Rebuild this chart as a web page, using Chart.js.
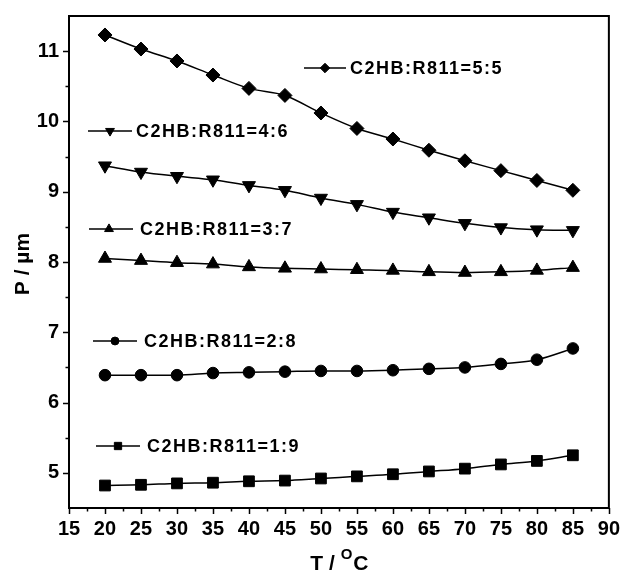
<!DOCTYPE html>
<html>
<head>
<meta charset="utf-8">
<script src="https://cdn.jsdelivr.net/npm/chart.js@4/dist/chart.umd.min.js"></script>
<style>
  html, body { margin: 0; padding: 0; background: #fff; }
  #wrap { width: 623px; height: 572px; }
</style>
</head>
<body>
<div id="wrap"><canvas id="c" width="623" height="572"></canvas></div>
<script>
// Helical pitch P (µm) against temperature T (°C) for five C2HB:R811 mixtures
const temperatures = [20, 25, 30, 35, 40, 45, 50, 55, 60, 65, 70, 75, 80, 85];

const pitch55 = [11.23, 11.03, 10.86, 10.66, 10.47, 10.37, 10.12, 9.90, 9.75, 9.59, 9.44, 9.30, 9.16, 9.02];
const pitch46 = [9.37, 9.28, 9.22, 9.17, 9.09, 9.02, 8.91, 8.82, 8.71, 8.63, 8.55, 8.49, 8.46, 8.45];
const pitch37 = [8.05, 8.02, 7.99, 7.97, 7.93, 7.91, 7.90, 7.89, 7.88, 7.86, 7.85, 7.86, 7.88, 7.92];
const pitch28 = [6.39, 6.39, 6.39, 6.42, 6.43, 6.44, 6.45, 6.45, 6.46, 6.48, 6.50, 6.55, 6.61, 6.77];
const pitch19 = [4.82, 4.83, 4.85, 4.86, 4.88, 4.89, 4.92, 4.95, 4.98, 5.02, 5.06, 5.12, 5.17, 5.25];

const seriesLabels = ['C2HB:R811=5:5', 'C2HB:R811=4:6', 'C2HB:R811=3:7', 'C2HB:R811=2:8', 'C2HB:R811=1:9'];
const seriesValues = [pitch55, pitch46, pitch37, pitch28, pitch19];

const xTickLabels = [15, 20, 25, 30, 35, 40, 45, 50, 55, 60, 65, 70, 75, 80, 85, 90];
const yTickLabels = [5, 6, 7, 8, 9, 10, 11];

const FONT = '"Liberation Sans", Arial, Helvetica, sans-serif';

// marker look of each mixture
const markers = [
  { style: 'rectRot',  rotation: 0,   radius: 7 },
  { style: 'triangle', rotation: 180, radius: 7.5 },
  { style: 'triangle', rotation: 0,   radius: 7.5 },
  { style: 'circle',   rotation: 0,   radius: 5.8 },
  { style: 'rect',     rotation: 0,   radius: 7.6 }
];

// where each key (line + marker + name) sits inside the plot, in canvas pixels
const keySpots = [
  { x0: 304, x1: 346, mx: 325, y: 68,  tx: 350 },
  { x0: 88,  x1: 132, mx: 110, y: 131, tx: 136 },
  { x0: 89,  x1: 133, mx: 109, y: 229, tx: 140 },
  { x0: 93,  x1: 137, mx: 115, y: 341, tx: 144 },
  { x0: 96,  x1: 140, mx: 118, y: 446, tx: 147 }
];

const datasets = seriesValues.map((vals, i) => ({
  label: seriesLabels[i],
  data: temperatures.map((t, k) => ({ x: t, y: vals[k] })),
  borderColor: '#000',
  borderWidth: 1.5,
  backgroundColor: '#000',
  pointBackgroundColor: '#000',
  pointBorderColor: '#000',
  pointBorderWidth: 1,
  pointStyle: markers[i].style,
  pointRotation: markers[i].rotation,
  pointRadius: markers[i].radius,
  pointHoverRadius: markers[i].radius,
  cubicInterpolationMode: 'monotone',
  fill: false,
  clip: false
}));

function drawMarker(ctx, m, x, y, radius) {
  const opts = { pointStyle: m.style, rotation: m.rotation, radius: radius, borderWidth: 1 };
  ctx.fillStyle = '#000';
  ctx.strokeStyle = '#000';
  ctx.lineWidth = 1;
  Chart.helpers.drawPoint(ctx, opts, x, y);
}

const framePlugin = {
  id: 'frame',
  afterDraw(chart) {
    const ctx = chart.ctx;
    const a = chart.chartArea;
    const xs = chart.scales.x, ys = chart.scales.y;
    ctx.save();
    ctx.strokeStyle = '#000';
    ctx.lineWidth = 2;
    // top and right edges of the box
    ctx.beginPath();
    ctx.moveTo(a.left, a.top);
    ctx.lineTo(a.right, a.top);
    ctx.lineTo(a.right, a.bottom);
    ctx.stroke();

    // outward major and minor ticks
    ctx.lineWidth = 1.5;
    ctx.beginPath();
    for (let v = xs.min; v <= xs.max + 1e-9; v += 2.5) {
      const px = Math.round(xs.getPixelForValue(v)) + 0.5;
      const len = (Math.abs(v % 5) < 1e-9) ? 6 : 3.5;
      ctx.moveTo(px, a.bottom);
      ctx.lineTo(px, a.bottom + len);
    }
    for (let v = 5; v <= 11 + 1e-9; v += 0.5) {
      const py = Math.round(ys.getPixelForValue(v)) + 0.5;
      const len = Number.isInteger(v) ? 6 : 3.5;
      ctx.moveTo(a.left, py);
      ctx.lineTo(a.left - len, py);
    }
    ctx.stroke();

    // axis titles
    ctx.fillStyle = '#000';
    ctx.font = 'bold 21px ' + FONT;
    ctx.save();
    ctx.translate(23, 264);
    ctx.rotate(-Math.PI / 2);
    ctx.textAlign = 'center';
    ctx.textBaseline = 'middle';
    ctx.fillText('P / µm', 0, 0);
    ctx.restore();

    ctx.textBaseline = 'alphabetic';
    ctx.textAlign = 'left';
    const partA = 'T / ';
    ctx.font = 'bold 21px ' + FONT;
    const wA = ctx.measureText(partA).width;
    const wC = ctx.measureText('C').width;
    ctx.font = 'bold 15px ' + FONT;
    const wO = ctx.measureText('O').width;
    const cx = (a.left + a.right) / 2;
    let tx = cx - (wA + wO + wC) / 2;
    const base = 570;
    ctx.font = 'bold 21px ' + FONT;
    ctx.fillText(partA, tx, base);
    tx += wA;
    ctx.font = 'bold 15px ' + FONT;
    ctx.fillText('O', tx, base - 11);
    tx += wO + 1;
    ctx.font = 'bold 21px ' + FONT;
    ctx.fillText('C', tx, base);

    // series keys
    keySpots.forEach((k, i) => {
      ctx.strokeStyle = '#000';
      ctx.lineWidth = 1.5;
      ctx.beginPath();
      ctx.moveTo(k.x0, k.y);
      ctx.lineTo(k.x1, k.y);
      ctx.stroke();
      drawMarker(ctx, markers[i], k.mx, k.y, markers[i].radius * 0.68);
      ctx.fillStyle = '#000';
      ctx.font = 'bold 18px ' + FONT;
      if ('letterSpacing' in ctx) ctx.letterSpacing = '1.5px';
      ctx.textAlign = 'left';
      ctx.textBaseline = 'middle';
      ctx.fillText(seriesLabels[i], k.tx, k.y + 1);
      if ('letterSpacing' in ctx) ctx.letterSpacing = '0px';
    });
    ctx.restore();
  }
};

new Chart(document.getElementById('c'), {
  type: 'line',
  data: { datasets },
  options: {
    responsive: false,
    animation: false,
    layout: { padding: { top: 11, right: 11, left: 0, bottom: 0 } },
    plugins: { legend: { display: false }, tooltip: { enabled: false } },
    scales: {
      x: {
        type: 'linear',
        min: 15,
        max: 90,
        afterBuildTicks: s => { s.ticks = xTickLabels.map(v => ({ value: v })); },
        afterFit: s => { s.height = 64; },
        ticks: {
          color: '#000',
          font: { family: FONT, size: 20, weight: 'bold' },
          padding: 3,
          maxRotation: 0,
          autoSkip: false
        },
        grid: { drawOnChartArea: false, drawTicks: true, tickLength: 6, tickColor: 'rgba(0,0,0,0)' },
        border: { display: true, width: 2, color: '#000' },
        title: { display: false }
      },
      y: {
        type: 'linear',
        min: 4.5,
        max: 11.5,
        afterBuildTicks: s => { s.ticks = yTickLabels.map(v => ({ value: v })); },
        afterFit: s => { s.width = 69; },
        ticks: {
          color: '#000',
          font: { family: FONT, size: 20, weight: 'bold' },
          padding: 4,
          autoSkip: false
        },
        grid: { drawOnChartArea: false, drawTicks: true, tickLength: 6, tickColor: 'rgba(0,0,0,0)' },
        border: { display: true, width: 2, color: '#000' },
        title: { display: false }
      }
    }
  },
  plugins: [framePlugin]
});
</script>
</body>
</html>
